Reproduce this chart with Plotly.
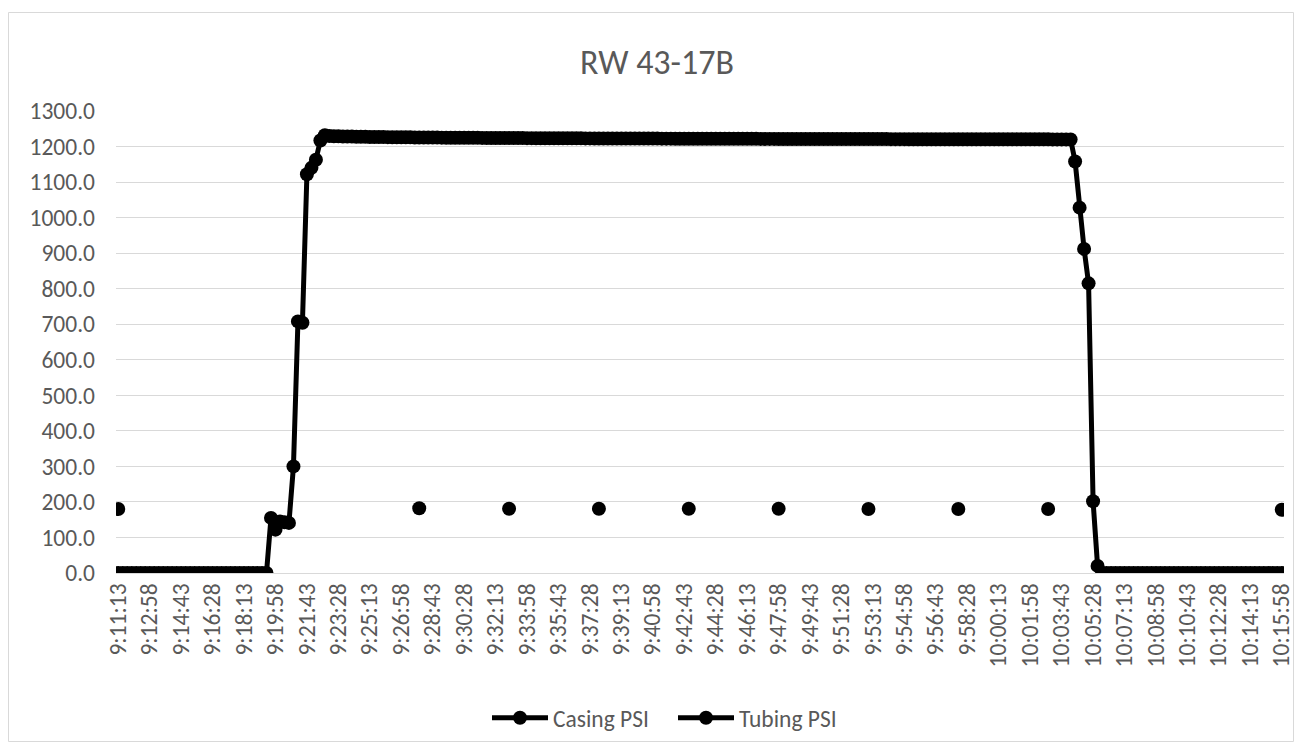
import datetime as dt
import plotly.graph_objects as go

# ---------------- data ----------------
title_text = "RW 43-17B"
series_names = ["Casing PSI", "Tubing PSI"]
start_time = "9:11:13"
step_seconds = 15

tick_labels = [
    "9:11:13", "9:12:58", "9:14:43", "9:16:28", "9:18:13", "9:19:58", "9:21:43",
    "9:23:28", "9:25:13", "9:26:58", "9:28:43", "9:30:28", "9:32:13", "9:33:58",
    "9:35:43", "9:37:28", "9:39:13", "9:40:58", "9:42:43", "9:44:28", "9:46:13",
    "9:47:58", "9:49:43", "9:51:28", "9:53:13", "9:54:58", "9:56:43", "9:58:28",
    "10:00:13", "10:01:58", "10:03:43", "10:05:28", "10:07:13", "10:08:58",
    "10:10:43", "10:12:28", "10:14:13", "10:15:58",
]

casing_psi = [
    0.0, 0.0, 0.0, 0.0, 0.0, 0.0, 0.0, 0.0, 0.0, 0.0, 0.0, 0.0, 0.0, 0.0, 0.0, 0.0, 0.0,
    0.0, 0.0, 0.0, 0.0, 0.0, 0.0, 0.0, 0.0, 0.0, 0.0, 0.0, 0.0, 0.0, 0.0, 0.0, 0.0, 0.0,
    155.0, 122.0, 145.0, 143.0, 141.0, 300.0, 708.0, 704.0, 1122.0, 1140.0, 1163.0, 1217.0, 1232.0,
    1229.6, 1229.1, 1228.7, 1228.4, 1228.1, 1227.9, 1227.6, 1227.4, 1227.2, 1227.0, 1226.9, 1226.7, 1226.5, 1226.4, 1226.3,
    1226.1, 1226.0, 1225.9, 1225.8, 1225.6, 1225.5, 1225.4, 1225.3, 1225.2, 1225.1, 1225.0, 1224.9, 1224.8, 1224.8, 1224.7,
    1224.6, 1224.5, 1224.4, 1224.4, 1224.3, 1224.2, 1224.1, 1224.1, 1224.0, 1223.9, 1223.9, 1223.8, 1223.7, 1223.7, 1223.6,
    1223.6, 1223.5, 1223.4, 1223.4, 1223.3, 1223.3, 1223.2, 1223.2, 1223.1, 1223.1, 1223.0, 1223.0, 1222.9, 1222.9, 1222.8,
    1222.8, 1222.7, 1222.7, 1222.7, 1222.6, 1222.6, 1222.5, 1222.5, 1222.5, 1222.4, 1222.4, 1222.3, 1222.3, 1222.3, 1222.2,
    1222.2, 1222.2, 1222.1, 1222.1, 1222.1, 1222.0, 1222.0, 1222.0, 1221.9, 1221.9, 1221.9, 1221.8, 1221.8, 1221.8, 1221.7,
    1221.7, 1221.7, 1221.7, 1221.6, 1221.6, 1221.6, 1221.5, 1221.5, 1221.5, 1221.5, 1221.4, 1221.4, 1221.4, 1221.4, 1221.3,
    1221.3, 1221.3, 1221.3, 1221.2, 1221.2, 1221.2, 1221.2, 1221.1, 1221.1, 1221.1, 1221.1, 1221.0, 1221.0, 1221.0, 1221.0,
    1220.9, 1220.9, 1220.9, 1220.9, 1220.9, 1220.8, 1220.8, 1220.8, 1220.8, 1220.7, 1220.7, 1220.7, 1220.7, 1220.7, 1220.6,
    1220.6, 1220.6, 1220.6, 1220.6, 1220.5, 1220.5, 1220.5, 1220.5, 1220.5, 1220.4, 1220.4, 1220.4, 1220.4, 1220.4, 1220.3,
    1220.3, 1220.3, 1220.3, 1220.3, 1220.3, 1220.2, 1220.2, 1220.2, 1220.2, 1220.2, 1220.2, 1220.1, 1220.1, 1220.1, 1220.1,
    1220.0, 1158.0, 1028.0, 912.0, 815.0, 202.0, 20.0,
    0.0, 0.0, 0.0, 0.0, 0.0, 0.0, 0.0, 0.0, 0.0, 0.0, 0.0, 0.0, 0.0, 0.0, 0.0, 0.0, 0.0,
    0.0, 0.0, 0.0, 0.0, 0.0, 0.0, 0.0, 0.0, 0.0, 0.0, 0.0, 0.0, 0.0, 0.0, 0.0, 0.0, 0.0,
    0.0, 0.0, 0.0, 0.0, 0.0, 0.0, 0.0,
]

tubing_times = ["9:11:13", "9:27:58", "9:32:58", "9:37:58", "9:42:58",
                "9:47:58", "9:52:58", "9:57:58", "10:02:58", "10:15:58"]
tubing_psi = [180.0, 182.0, 181.0, 181.0, 181.0, 181.0, 180.0, 180.0, 180.0, 178.0]

# ---------------- categories ----------------
t0 = dt.datetime.strptime(start_time, "%H:%M:%S")
times = []
for i in range(len(casing_psi)):
    t = t0 + dt.timedelta(seconds=step_seconds * i)
    times.append(f"{t.hour}:{t.minute:02d}:{t.second:02d}")

tubing_map = dict(zip(tubing_times, tubing_psi))
tubing_full = [tubing_map.get(t) for t in times]

# ---------------- figure ----------------
FONT = "Calibri, Carlito, Lato, sans-serif"
GRAY = "#595959"
GRID = "#d9d9d9"
LABEL_SIZE = 23.5
TITLE_SIZE = 34

fig = go.Figure()
fig.add_trace(go.Scatter(
    x=times, y=casing_psi, name=series_names[0], mode="lines+markers",
    line=dict(color="#000000", width=5),
    marker=dict(color="#000000", size=14, symbol="circle"),
))
fig.add_trace(go.Scatter(
    x=times, y=tubing_full, name=series_names[1], mode="lines+markers",
    connectgaps=False,
    line=dict(color="#000000", width=5),
    marker=dict(color="#000000", size=14, symbol="circle"),
))

W, H = 1302, 746
ml, mr, mt, mb = 116, 18, 111, 173
pw, ph = W - ml - mr, H - mt - mb

def px_to_paper_x(px):
    return (px - ml) / pw

def px_to_paper_y(py):
    return (H - py - mb) / ph

fig.update_layout(
    width=W, height=H,
    margin=dict(l=ml, r=mr, t=mt, b=mb, autoexpand=False),
    paper_bgcolor="white", plot_bgcolor="white",
    font=dict(family=FONT, color=GRAY, size=LABEL_SIZE),
    title=dict(text=title_text, x=657 / W, xref="container", xanchor="center",
               y=1 - 62 / H, yref="container", yanchor="middle",
               font=dict(family=FONT, size=TITLE_SIZE, color=GRAY)),
    showlegend=True,
    legend=dict(orientation="h", x=487 / W, xref="container", xanchor="left",
                y=1 - 718 / H, yref="container", yanchor="middle",
                font=dict(family=FONT, size=LABEL_SIZE, color=GRAY),
                itemwidth=56, entrywidth=115, entrywidthmode="pixels",
                bgcolor="rgba(0,0,0,0)"),
    shapes=[dict(type="rect", xref="paper", yref="paper",
                 x0=px_to_paper_x(8.5), x1=px_to_paper_x(1293.5),
                 y0=px_to_paper_y(741.5), y1=px_to_paper_y(12.5),
                 line=dict(color=GRID, width=1), fillcolor="rgba(0,0,0,0)",
                 layer="below")],
)

fig.update_xaxes(
    type="category", range=[-0.5, len(times) - 0.5],
    tickmode="array", tickvals=tick_labels, ticktext=tick_labels,
    tickangle=-90, ticks="", showgrid=False, zeroline=False,
    showline=True, linecolor=GRID, linewidth=1,
    tickfont=dict(family=FONT, size=LABEL_SIZE, color=GRAY),
    ticklabelstandoff=0,
)
fig.update_yaxes(
    range=[0, 1300], dtick=100, tick0=0, tickformat=".1f",
    showgrid=True, gridcolor=GRID, gridwidth=1, zeroline=False,
    showline=False, ticks="",
    tickfont=dict(family=FONT, size=LABEL_SIZE, color=GRAY),
    ticklabelstandoff=20,
)

fig.write_html(
    "out.html",
    config={"displayModeBar": False},
    post_script="document.body.style.margin='0';"
                "document.documentElement.style.overflow='hidden';",
)
